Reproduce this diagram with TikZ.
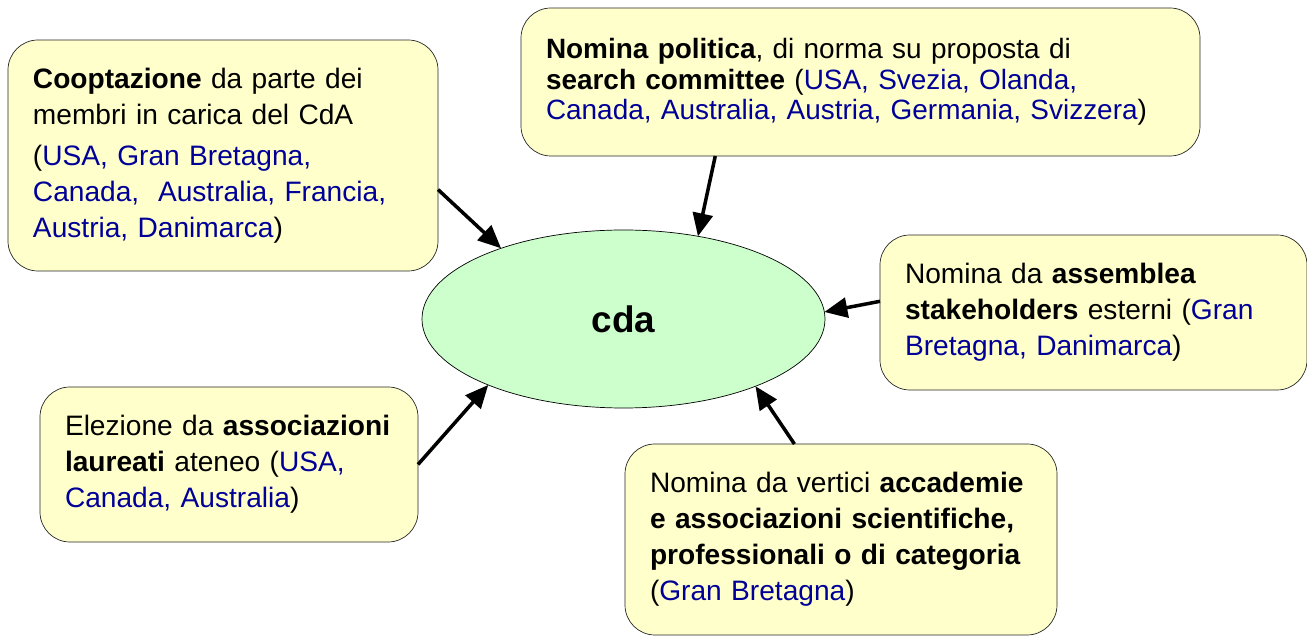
\documentclass[tikz,border=0pt]{standalone}
\usepackage{fontspec}
\setmainfont{Liberation Sans}
\usepackage{xcolor}
\usepackage{tikz}
\usetikzlibrary{shapes,arrows,positioning,calc,arrows.meta}

\definecolor{boxyellow}{HTML}{FFFFCC}
\definecolor{cdagreen}{HTML}{CCFFCC}
\definecolor{paeseblue}{HTML}{000099}
\newcommand{\paese}[1]{\textcolor{paeseblue}{#1}}

\tikzset{
  box/.style={draw=black!85, fill=boxyellow, rounded corners=0.6cm, align=left,
    inner xsep=0.5cm, inner ysep=0.2cm, outer sep=0pt,
    font=\fontsize{16}{20.5}\selectfont},
  link/.style={-{Triangle[length=0.46cm,width=0.4cm]}, line width=2pt}
}

\begin{document}
\begin{tikzpicture}
    \useasboundingbox (0,0) rectangle (26.14,-12.74);

    \node[draw, ellipse, fill=cdagreen, minimum width=8.06cm, minimum height=3.56cm,
      inner sep=0pt, outer sep=0pt, font=\fontsize{21}{25}\selectfont\bfseries] (cda) at (12.47,-6.38) {cda};

    \node[box, text width=7.6cm, minimum height=4.62cm, above left=0.96cm and 3.71cm of cda.center] (coop)
      {\textbf{Cooptazione} da parte dei\\
       membri in carica del CdA\\[3pt]
       (\paese{USA, Gran Bretagna,}\\
       \paese{Canada,\ \ Australia, Francia,}\\
       \paese{Austria, Danimarca})};
    \node[box, text width=12.58cm, minimum height=2.96cm, above=3.26cm of cda.center, xshift=4.74cm,
      font=\fontsize{15.9}{17.5}\selectfont] (pol)
      {\textbf{Nomina politica}, di norma su proposta di\\
       \textbf{search committee} (\paese{USA, Svezia, Olanda,}\\
       \paese{Canada, Australia, Austria, Germania, Svizzera})};
    \node[box, text width=7.54cm, minimum height=3.1cm, right=5.13cm of cda.center, yshift=0.13cm] (ass)
      {Nomina da \textbf{assemblea}\\
       \textbf{stakeholders} esterni (\paese{Gran}\\
       \paese{Bretagna, Danimarca})};
    \node[box, text width=6.56cm, minimum height=3.1cm, below left=1.36cm and 4.11cm of cda.center] (lau)
      {Elezione da \textbf{associazioni}\\
       \textbf{laureati} ateneo (\paese{USA,}\\
       \paese{Canada, Australia})};
    \node[box, text width=7.64cm, minimum height=3.82cm, below right=2.5cm and 0.03cm of cda.center] (acc)
      {Nomina da vertici \textbf{accademie}\\
       \textbf{e associazioni scientifiche,}\\
       \textbf{professionali o di categoria}\\
       (\paese{Gran Bretagna})};

    \draw[link] (coop.-9) -- (cda.150);
    \draw[link] (pol.-153) -- (cda.48);
    \draw[link] (ass.177) -- (cda.2);
    \draw[link] (lau.east) -- (cda.206);
    \draw[link] (acc.116) -- (cda.-27);
\end{tikzpicture}
\end{document}
